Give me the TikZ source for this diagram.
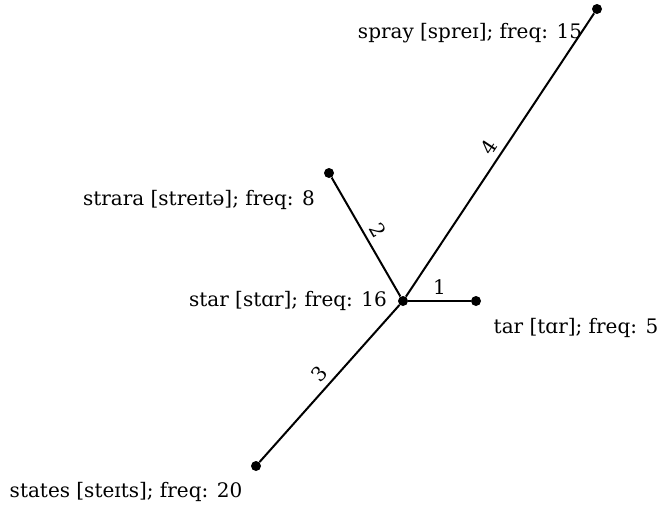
\documentclass[tikz,border=0pt]{standalone}
\usepackage{fontspec}
\setmainfont{DejaVu Serif}
\usetikzlibrary{calc}

\tikzset{
  dot/.style={circle, fill=black, inner sep=0pt, minimum size=7.5pt},
  word/.style={inner sep=0pt, font=\fontsize{15}{17}\selectfont},
  edgelab/.style={font=\fontsize{15}{17}\selectfont, inner sep=4pt}
}

\begin{document}
\begin{tikzpicture}[x=0.75pt,y=-0.75pt]
\useasboundingbox (0,0) rectangle (659,507);
% the vertices
\node[dot] (star) at (403,301) {};
\node[dot] (spray) at (597,9) {};
\node[dot] (strara) at (329,173) {};
\node[dot] (tar) at (476,301) {};
\node[dot] (states) at (256,466) {};
% the words
\node[word] (starlab) at (288,301) {star [stɑr]; freq: 16};
\node[word] (spraylab) at (470,33) {spray [spreɪ]; freq: 15};
\node[word] (straralab) at (199,200) {strara [streɪtə]; freq: 8};
\node[word] (tarlab) at (576,328) {tar [tɑr]; freq: 5};
\node[word] (stateslab) at (126,492) {states [steɪts]; freq: 20};
% the edges
\draw[line width=1.5pt] (star) -- node[edgelab, above] {1} (tar);
\draw[line width=1.5pt] (star) -- node[edgelab, sloped, above] {2} (strara);
\draw[line width=1.5pt] (star) -- node[edgelab, sloped, above] {3} (states);
\draw[line width=1.5pt] (star) -- node[edgelab, sloped, above] {4} (spray);
\end{tikzpicture}
\end{document}
